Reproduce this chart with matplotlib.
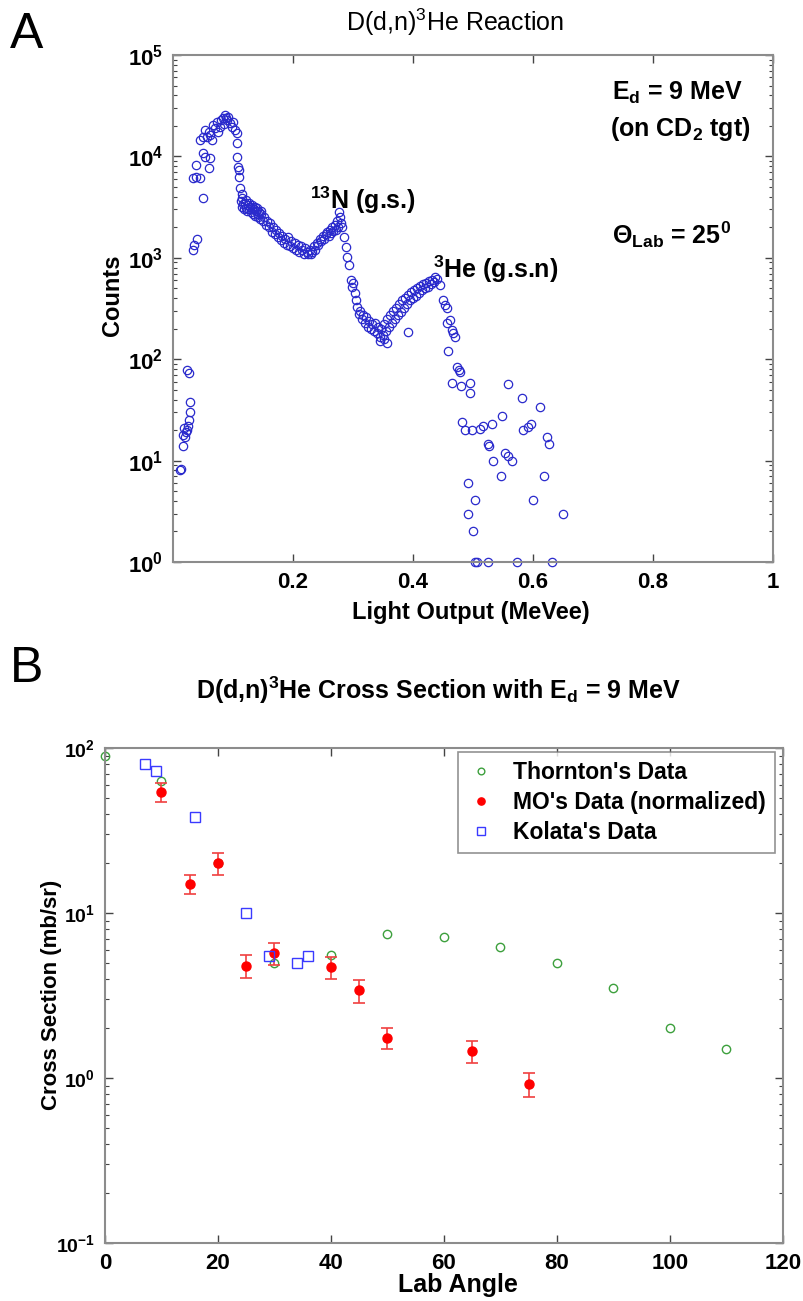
import numpy as np
import matplotlib.pyplot as plt
from matplotlib.ticker import LogLocator, NullFormatter

plt.rcParams['font.family'] = ['Liberation Sans', 'DejaVu Sans']
plt.rcParams['font.weight'] = 'bold'
plt.rcParams['mathtext.default'] = 'regular'
plt.rcParams['axes.unicode_minus'] = False

# ---- panel A: light output spectrum (MeVee, counts) ----
low_x = [0.012, 0.014, 0.016, 0.017, 0.019, 0.020, 0.022, 0.023, 0.025, 0.026, 0.028, 0.029, 0.024, 0.027]
low_y = [8.0, 8.3, 18, 14, 21, 17, 19, 20, 22, 25, 30, 38, 78, 73]

peak_x = [0.033, 0.035, 0.040, 0.050, 0.033, 0.038, 0.045, 0.038, 0.050, 0.053, 0.062, 0.060,
          0.045, 0.050, 0.053, 0.057, 0.060, 0.062, 0.065, 0.067, 0.070, 0.073, 0.075, 0.078,
          0.080, 0.083, 0.085, 0.087, 0.088, 0.090, 0.092, 0.095, 0.098, 0.100, 0.103, 0.107,
          0.107, 0.107, 0.108, 0.110, 0.110, 0.112, 0.115, 0.115]
peak_y = [1200, 1350, 1550, 3900, 6100, 6300, 6100, 8200, 10800, 9800, 9600, 7700,
          14500, 15500, 18200, 15500, 17500, 16200, 14500, 20400, 19000, 21900, 17400, 19500,
          23000, 24000, 21000, 25700, 24000, 22900, 24500, 21400, 19500, 22000, 18200, 17000,
          13500, 9800, 7900, 7400, 6300, 4900, 4300, 3900]

decl_x = [0.113, 0.115, 0.117, 0.118, 0.120, 0.122, 0.123, 0.125, 0.127, 0.128, 0.130, 0.132,
          0.133, 0.135, 0.137, 0.138, 0.140, 0.142, 0.143, 0.145, 0.147, 0.150, 0.152, 0.155,
          0.157, 0.160, 0.162, 0.165, 0.167, 0.170, 0.172, 0.175, 0.177, 0.180, 0.182, 0.185,
          0.187, 0.190, 0.192, 0.195, 0.197, 0.200, 0.203, 0.205, 0.208, 0.210, 0.213, 0.215,
          0.218, 0.220, 0.223, 0.225, 0.228, 0.230, 0.121, 0.126, 0.131, 0.136, 0.141, 0.146]
decl_y = [3600, 3200, 3400, 3000, 3500, 3100, 2900, 3300, 3000, 3200, 2800, 3100,
          2700, 3000, 2600, 2900, 3100, 2500, 2800, 2400, 2700, 2300, 2500, 2100,
          2300, 2000, 2200, 1800, 2000, 1700, 1900, 1600, 1750, 1500, 1650, 1400,
          1550, 1350, 1600, 1300, 1450, 1250, 1400, 1200, 1350, 1150, 1300, 1200,
          1100, 1250, 1150, 1100, 1200, 1100, 3700, 3500, 3300, 3200, 2700, 2900]

n13_x = [0.232, 0.235, 0.237, 0.240, 0.242, 0.245, 0.247, 0.250, 0.252, 0.255, 0.257, 0.260,
         0.262, 0.263, 0.265, 0.267, 0.270, 0.272, 0.273, 0.275, 0.277, 0.278, 0.280, 0.282,
         0.285, 0.288, 0.290, 0.293, 0.297, 0.298, 0.300]
n13_y = [1150, 1300, 1200, 1400, 1350, 1550, 1450, 1650, 1550, 1700, 1800, 1650,
         1900, 1750, 2000, 1850, 2100, 1900, 2300, 2000, 2800, 2500, 2200, 2000,
         1600, 1280, 1020, 850, 600, 520, 560]

val_x = [0.303, 0.305, 0.307, 0.310, 0.312, 0.315, 0.317, 0.320, 0.322, 0.325, 0.327, 0.330,
         0.332, 0.335, 0.337, 0.340, 0.342, 0.345, 0.347, 0.350, 0.352, 0.355, 0.357, 0.360,
         0.362, 0.365, 0.367, 0.370, 0.372, 0.375, 0.377, 0.380, 0.382, 0.385, 0.387, 0.390,
         0.392, 0.395, 0.397, 0.400, 0.402, 0.405, 0.407, 0.410, 0.412, 0.415, 0.417, 0.420,
         0.422, 0.425, 0.427, 0.430, 0.432, 0.435, 0.437, 0.440, 0.345, 0.357, 0.352, 0.392]
val_y = [450, 380, 330, 280, 300, 250, 270, 230, 260, 210, 240, 200,
         220, 190, 230, 180, 210, 165, 200, 175, 220, 190, 250, 210,
         270, 230, 300, 250, 320, 270, 350, 290, 380, 320, 400, 350,
         430, 380, 460, 400, 480, 420, 500, 450, 530, 480, 550, 500,
         560, 520, 590, 550, 600, 580, 650, 620, 150, 145, 160, 185]

tail_x = [0.445, 0.450, 0.453, 0.457, 0.462, 0.457, 0.465, 0.467, 0.470, 0.458, 0.473, 0.477,
          0.478, 0.465, 0.480, 0.495, 0.495, 0.482, 0.487, 0.498, 0.512, 0.517, 0.532, 0.548,
          0.558, 0.582, 0.612, 0.525, 0.527, 0.533, 0.553, 0.558, 0.565, 0.547, 0.583, 0.592,
          0.597, 0.623, 0.627, 0.618, 0.492, 0.503, 0.492, 0.600, 0.650, 0.500,
          0.503, 0.507, 0.525, 0.573, 0.632]
tail_y = [540, 380, 340, 318, 245, 230, 195, 183, 166, 120, 83, 79,
          75, 58, 55, 58, 46, 24, 20, 20, 20.5, 22, 23, 27.5,
          57, 41, 34, 14.5, 14, 10, 12, 11, 10, 7.1, 20, 21.5,
          23, 17, 14.5, 7.1, 6, 4.1, 3.0, 4.1, 3.0, 2.0,
          1, 1, 1, 1, 1]

# ---- panel B: cross sections (lab angle, mb/sr) ----
thornton_ang = [0, 10, 20, 30, 40, 50, 60, 70, 80, 90, 100, 110]
thornton_xs = [90, 63, 20, 5.0, 5.6, 7.5, 7.2, 6.2, 5.0, 3.5, 2.0, 1.5]
mo_ang = [10, 15, 20, 25, 30, 40, 45, 50, 65, 75]
mo_xs = [54, 15, 20, 4.8, 5.7, 4.7, 3.4, 1.75, 1.45, 0.92]
mo_err = [7, 2, 3, 0.75, 0.85, 0.7, 0.55, 0.25, 0.22, 0.15]
kolata_ang = [7, 9, 16, 25, 29, 34, 36]
kolata_xs = [80, 73, 38, 10, 5.5, 5.0, 5.5]

W, H = 804, 1301


def px_rect(l, t, r, b):
    return [l / W, 1 - b / H, (r - l) / W, (b - t) / H]


def style_axes(ax, ysize=16):
    for s in ax.spines.values():
        s.set_color('#8c8c8c')
        s.set_linewidth(1.5)
    ax.tick_params(which='both', direction='in', top=True, right=True, colors='#444444',
                   labelcolor='black', labelsize=16, pad=7)
    ax.tick_params(axis='y', labelsize=ysize)
    ax.tick_params(which='major', length=6, width=1)
    ax.tick_params(which='minor', length=3, width=0.8)
    ax.yaxis.set_minor_locator(LogLocator(base=10, subs=np.arange(2, 10)))
    ax.yaxis.set_minor_formatter(NullFormatter())


fig = plt.figure(figsize=(8.04, 13.01), dpi=100)

# panel A
ax1 = fig.add_axes(px_rect(173, 55, 773, 562))
spec_x = low_x + peak_x + decl_x + n13_x + val_x + tail_x
spec_y = low_y + peak_y + decl_y + n13_y + val_y + tail_y
ax1.plot(spec_x, spec_y, 'o', mfc='none', mec='#2a2acc', ms=6, mew=0.9, clip_on=False)
ax1.set_yscale('log')
ax1.set_xlim(0, 1)
ax1.set_ylim(1, 1e5)
ax1.set_xticks([0.2, 0.4, 0.6, 0.8, 1.0])
ax1.set_xticklabels(['0.2', '0.4', '0.6', '0.8', '1'])
ax1.set_yticks([1, 10, 100, 1e3, 1e4, 1e5])
style_axes(ax1)

ax1.text(0.228, 3000, r'$^{13}$N (g.s.)', fontsize=18, ha='left', va='baseline')
ax1.text(0.433, 630, r'$^{3}$He (g.s.n)', fontsize=18, ha='left', va='baseline')
ax1.text(0.732, 36000, r'E$_d$ = 9 MeV', fontsize=18, ha='left', va='baseline')
ax1.text(0.728, 16000, r'(on CD$_2$ tgt)', fontsize=18, ha='left', va='baseline')
ax1.text(0.732, 1380, r'Θ$_{Lab}$ = 25$^0$', fontsize=18, ha='left', va='baseline')

fig.text(455 / W, 1 - 22 / H, r'D(d,n)$^3$He Reaction', fontsize=18, fontweight='normal',
         ha='center', va='center')
fig.text(471 / W, 1 - 612 / H, 'Light Output (MeVee)', fontsize=17, ha='center', va='center')
fig.text(113 / W, 1 - 295 / H, 'Counts', fontsize=17, rotation=90, ha='center', va='center')
fig.text(10 / W, 1 - 48 / H, 'A', fontsize=36, fontweight='normal', ha='left', va='baseline')

# panel B
ax2 = fig.add_axes(px_rect(105, 748, 783, 1243))
ax2.plot(thornton_ang, thornton_xs, 'o', mfc='none', mec='#3da03d', ms=6, mew=1.0,
         clip_on=False, label="Thornton's Data")
ax2.errorbar(mo_ang, mo_xs, yerr=mo_err, fmt='none', ecolor='#f04040', elinewidth=1.2,
             capsize=4, capthick=1.2)
ax2.plot(mo_ang, mo_xs, 'o', color='#ff0000', ms=6.5, label="MO's Data (normalized)")
ax2.plot(kolata_ang, kolata_xs, 's', mfc='none', mec='#3a3aff', ms=7, mew=1.0,
         label="Kolata's Data")
ax2.set_yscale('log')
ax2.set_xlim(0, 120)
ax2.set_ylim(0.1, 100)
ax2.set_xticks(np.arange(0, 121, 20))
ax2.set_yticks([0.1, 1, 10, 100])
style_axes(ax2, ysize=14)

leg = ax2.legend(loc='upper right', bbox_to_anchor=(0.988, 0.992), fontsize=16.5,
                 frameon=True, fancybox=False, edgecolor='#777777', markerscale=0.8,
                 handlelength=1.2, handletextpad=0.8, borderpad=0.4, labelspacing=0.3,
                 borderaxespad=0)
leg.get_frame().set_linewidth(1.2)

fig.text(438 / W, 1 - 690 / H, r'D(d,n)$^3$He Cross Section with E$_d$ = 9 MeV', fontsize=18,
         ha='center', va='center')
fig.text(458 / W, 1 - 1285 / H, 'Lab Angle', fontsize=18, ha='center', va='center')
fig.text(52 / W, 1 - 995 / H, 'Cross Section (mb/sr)', fontsize=16, rotation=90,
         ha='center', va='center')
fig.text(10 / W, 1 - 682 / H, 'B', fontsize=36, fontweight='normal', ha='left', va='baseline')

fig.savefig('out.png', dpi=100)
